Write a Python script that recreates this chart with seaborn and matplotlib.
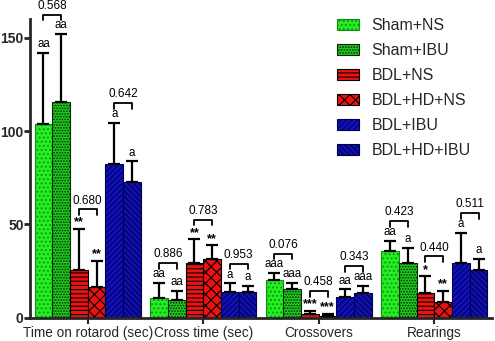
import numpy as np
import pandas as pd
import seaborn as sns
import matplotlib.pyplot as plt
from matplotlib.patches import Patch
from matplotlib.container import BarContainer

categories = ["Time on rotarod (sec)", "Cross time (sec)", "Crossovers", "Rearings"]
groups = ["Sham+NS", "Sham+IBU", "BDL+NS", "BDL+HD+NS", "BDL+IBU", "BDL+HD+IBU"]

sham_ns = [103.7, 10.4, 20.2, 35.5]
sham_ibu = [115.5, 9.3, 15.4, 29.3]
bdl_ns = [25.5, 29.4, 2.1, 13.2]
bdl_hd_ns = [16.3, 31.4, 1.1, 8.2]
bdl_ibu = [82.4, 13.6, 11.2, 29.4]
bdl_hd_ibu = [72.8, 13.6, 13.4, 25.5]

sham_ns_err = [38.0, 8.3, 3.6, 5.7]
sham_ibu_err = [36.4, 5.2, 3.2, 8.0]
bdl_ns_err = [22.0, 12.6, 1.6, 9.1]
bdl_hd_ns_err = [14.1, 7.4, 1.0, 6.1]
bdl_ibu_err = [22.0, 4.8, 4.0, 16.1]
bdl_hd_ibu_err = [10.9, 3.5, 3.7, 5.8]

letters_sham_ns = ["aa", "aa", "aaa", "aa"]
letters_sham_ibu = ["aa", "aa", "aaa", "a"]
letters_bdl_ns = ["**", "**", "***", "*"]
letters_bdl_hd_ns = ["**", "**", "***", "**"]
letters_bdl_ibu = ["a", "a", "aa", "a"]
letters_bdl_hd_ibu = ["a", "a", "aaa", "a"]

p_sham = ["0.568", "0.886", "0.076", "0.423"]
p_bdl = ["0.680", "0.783", "0.458", "0.440"]
p_ibu = ["0.642", "0.953", "0.343", "0.511"]

means = [sham_ns, sham_ibu, bdl_ns, bdl_hd_ns, bdl_ibu, bdl_hd_ibu]
errs = [sham_ns_err, sham_ibu_err, bdl_ns_err, bdl_hd_ns_err, bdl_ibu_err, bdl_hd_ibu_err]
letters = [letters_sham_ns, letters_sham_ibu, letters_bdl_ns, letters_bdl_hd_ns,
           letters_bdl_ibu, letters_bdl_hd_ibu]
pvals = [p_sham, p_bdl, p_ibu]

colors = ["#22ee22", "#1ec81e", "#ee1111", "#ee1111", "#1010c0", "#1010b0"]
hatches = ["....", "......", "----", "xxx", "//////", "\\\\\\\\\\\\"]
edgecols = ["#138a13", "#062806", "black", "black", "#000050", "#000050"]

rows = []
for g, m in zip(groups, means):
    for c, v in zip(categories, m):
        rows.append({"category": c, "group": g, "value": v})
df = pd.DataFrame(rows)

sns.set_style("ticks")
plt.rcParams["font.family"] = ["Liberation Sans", "DejaVu Sans"]
plt.rcParams["hatch.linewidth"] = 0.8

fig = plt.figure(figsize=(4.95, 3.41), dpi=100)
ax = fig.add_axes([30 / 495, 1 - 317.7 / 341, (492 - 30) / 495, (317.7 - 19) / 341])

sns.barplot(data=df, x="category", y="value", hue="group", hue_order=groups,
            order=categories, palette=colors, width=0.92, errorbar=None,
            saturation=1, ax=ax)
if ax.get_legend() is not None:
    ax.get_legend().remove()

bar_containers = [c for c in ax.containers if isinstance(c, BarContainer)]
centers = []
for i, cont in enumerate(bar_containers):
    cs = []
    for bar in cont:
        bar.set_hatch(hatches[i])
        bar.set_edgecolor(edgecols[i])
        bar.set_linewidth(0.8)
        cs.append(bar.get_x() + bar.get_width() / 2)
    centers.append(cs)

for i in range(6):
    ax.errorbar(centers[i], means[i], yerr=[np.zeros(len(errs[i])), errs[i]], fmt="none",
                ecolor="black", elinewidth=1.6, capsize=4, capthick=1.6, zorder=3)

for i in range(6):
    for j in range(4):
        top = means[i][j] + errs[i][j]
        lab = letters[i][j]
        star = lab.startswith("*")
        ax.text(centers[i][j], top + (0.2 if star else 1.5), lab, ha="center", va="bottom",
                fontsize=9 if star else 8.3, fontweight="bold" if star else "normal",
                color="black", zorder=4)

for k in range(3):
    a, b = 2 * k, 2 * k + 1
    for j in range(4):
        x1, x2 = centers[a][j], centers[b][j]
        ymax = max(means[a][j] + errs[a][j], means[b][j] + errs[b][j])
        yb = ymax + 10.5
        ax.plot([x1, x1, x2, x2], [yb - 3, yb, yb, yb - 3], color="black", lw=1.3,
                clip_on=False, zorder=4)
        ax.text((x1 + x2) / 2, yb + 1.5, pvals[k][j], ha="center", va="bottom",
                fontsize=8.5, color="black", clip_on=False)

ax.set_xlim(-0.5, 3.5)
ax.set_ylim(0, 160)
ax.set_yticks([0, 50, 100, 150])
ax.set_xlabel("")
ax.set_ylabel("")
for lab in ax.get_yticklabels():
    lab.set_fontweight("bold")
ax.tick_params(axis="y", labelsize=10, width=2, length=4, pad=0.5)
ax.tick_params(axis="x", labelsize=9.8, width=1.5, length=4, pad=2)
for s in ["top", "right"]:
    ax.spines[s].set_visible(False)
for s in ["left", "bottom"]:
    ax.spines[s].set_linewidth(2)

handles = [Patch(facecolor=colors[i], hatch=hatches[i], edgecolor=edgecols[i],
                 linewidth=0.8, label=groups[i]) for i in range(6)]
fig.legend(handles=handles, loc="upper left", bbox_to_anchor=(337 / 495, 1 - 18 / 341),
           frameon=False, fontsize=11.5, handlelength=1.4, handleheight=0.7,
           handletextpad=0.75, labelspacing=0.63, borderpad=0, borderaxespad=0)

fig.savefig("out.png", dpi=100)
